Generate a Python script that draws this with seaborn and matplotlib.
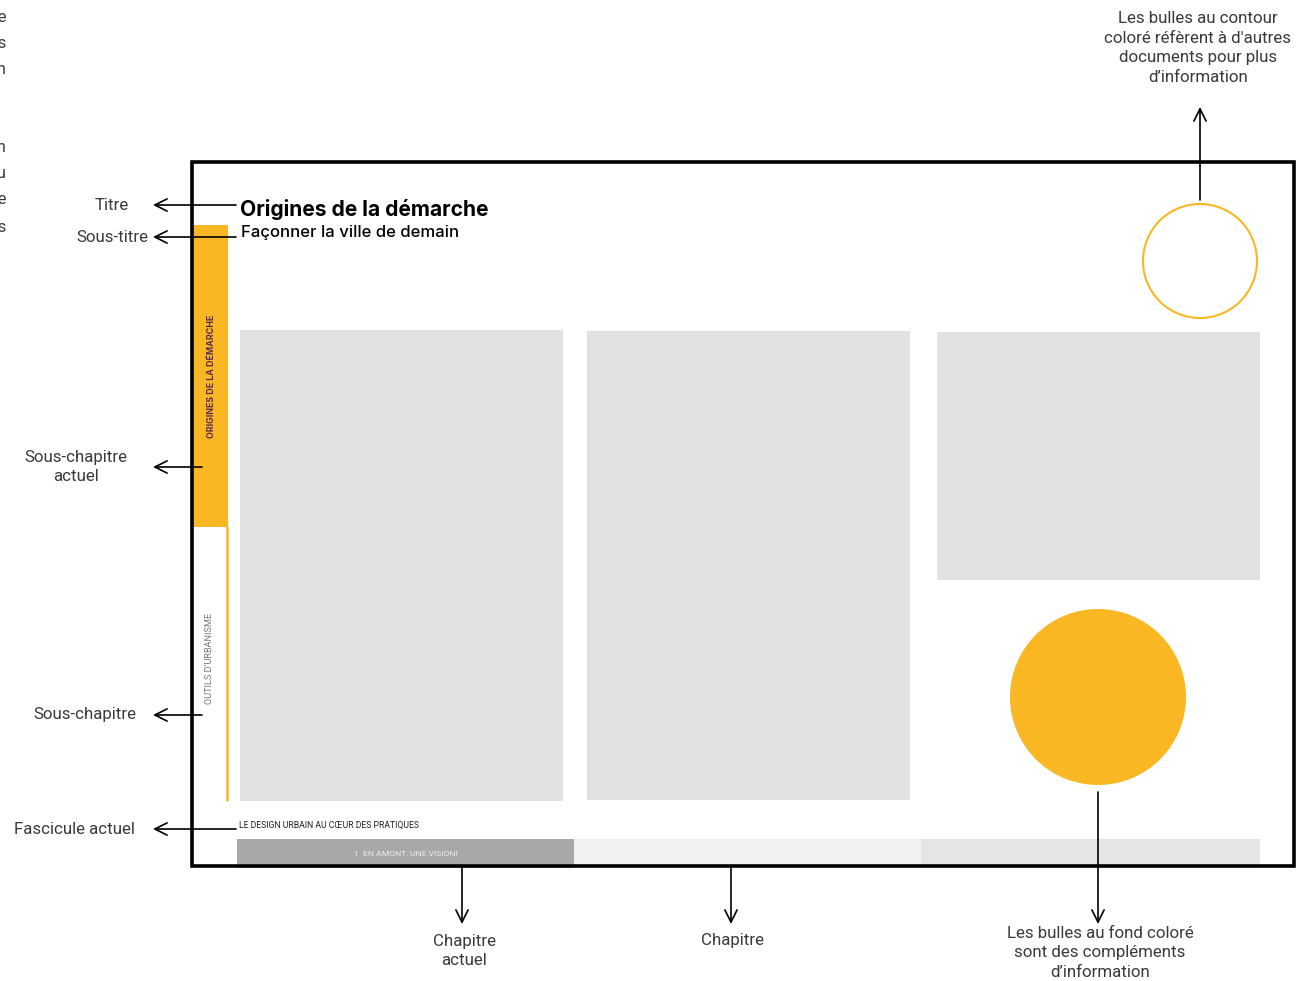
import matplotlib
matplotlib.use("Agg")
import matplotlib.pyplot as plt
import seaborn as sns
from matplotlib.patches import Rectangle, Circle

# Layout data (pixel coordinates of the 1314x981 page)
W, H = 1314, 981
ORANGE = "#F9B823"
GREY_BOX = "#E2E2E2"
TXT = "#3A3A3A"

frame = (192, 162, 1294, 866)
panels = [(240, 330, 563, 801), (587, 331, 910, 800), (937, 332, 1260, 580)]
chapter_bar = [(237, 574, "#A8A8A8"), (574, 921, "#F1F2F2"), (921, 1260, "#E5E5E5")]
chapter_labels = ["1  EN AMONT, UNE VISION!", "", ""]

# left annotations: label, text x, text y, arrow start x, arrow y, alignment
left_notes = [
    ("Titre", 129, 205, 236, 205, "right"),
    ("Sous-titre", 148, 237, 236, 237, "right"),
    ("Sous-chapitre\nactuel", 76, 467, 202, 467, "center"),
    ("Sous-chapitre", 85, 715, 202, 715, "center"),
    ("Fascicule actuel", 74, 829, 236, 829, "center"),
]
# bottom annotations: label, x, text y, arrow top y
bottom_notes = [
    ("Chapitre\nactuel", 462, 951, 868),
    ("Chapitre", 731, 941, 868),
    ("Les bulles au fond coloré\nsont des compléments\nd\u2019information", 1098, 953, 792),
]
top_note = "Les bulles au contour\ncoloré réfèrent à d'autres\ndocuments pour plus\nd\u2019information"
clipped_left = [("e", 18), ("s", 44), ("n", 70), ("n", 148), ("u", 174), ("e", 200), ("s", 227)]

sns.set_theme(style="white")
plt.rcParams["font.family"] = ["Roboto", "DejaVu Sans"]

fig = plt.figure(figsize=(W / 100, H / 100), dpi=100)
ax = fig.add_axes([0, 0, 1, 1])
ax.set_xlim(0, W)
ax.set_ylim(H, 0)
ax.set_axis_off()

# grey content panels
for x0, y0, x1, y1 in panels:
    ax.add_patch(Rectangle((x0, y0), x1 - x0, y1 - y0, color=GREY_BOX, lw=0))

# chapter bar at the bottom
for (x0, x1, c), lab in zip(chapter_bar, chapter_labels):
    ax.add_patch(Rectangle((x0, 839), x1 - x0, 29, color=c, lw=0))
    if lab:
        ax.text((x0 + x1) / 2, 853, lab, ha="center", va="center", fontsize=6.1, color="#EEEEEE")

# sidebar
ax.add_patch(Rectangle((193, 225), 35, 302, color=ORANGE, lw=0))
ax.plot([227, 227], [527, 800], color=ORANGE, lw=1.8)
ax.text(211, 376, "ORIGINES DE LA DÉMARCHE", rotation=90, ha="center", va="center",
        fontsize=6.4, fontweight="bold", color="#5B2A55", family=["Inter", "DejaVu Sans"])
ax.text(210, 658, "OUTILS D\u2019URBANISME", rotation=90, ha="center", va="center",
        fontsize=6.6, color="#777777")

# circles
ax.add_patch(Circle((1200, 261), 57, facecolor="white", edgecolor=ORANGE, lw=1.5))
ax.add_patch(Circle((1098, 697), 88, color=ORANGE, lw=0))

# frame
x0, y0, x1, y1 = frame
ax.add_patch(Rectangle((x0, y0), x1 - x0, y1 - y0, fill=False, edgecolor="black", lw=2.6, zorder=5))

# titles
ax.text(240, 210, "Origines de la démarche", fontsize=15.1, fontweight="bold",
        ha="left", va="center", color="black", family=["Inter", "DejaVu Sans"])
ax.text(241, 233, "Façonner la ville de demain", fontsize=12, fontweight="medium",
        ha="left", va="center", color="black", family=["Inter", "DejaVu Sans"])
ax.text(239, 825, "LE DESIGN URBAIN AU CŒUR DES PRATIQUES", fontsize=6.2,
        ha="left", va="center", color="#222222")

arrow = dict(arrowstyle="->", lw=1.2, color="black", mutation_scale=22, shrinkA=0, shrinkB=0)
note_kw = dict(va="center", fontsize=12.2, color=TXT, linespacing=1.4)

for lab, tx, ty, ax0, ay, ha in left_notes:
    ax.text(tx, ty, lab, ha=ha, **note_kw)
    ax.annotate("", xy=(153, ay), xytext=(ax0, ay), arrowprops=arrow, zorder=6)

for lab, x, ty, top in bottom_notes:
    ax.annotate("", xy=(x, 924), xytext=(x, top), arrowprops=arrow, zorder=6)
    ax.text(x + 2, ty, lab, ha="center", **note_kw)

ax.annotate("", xy=(1200, 107), xytext=(1200, 200), arrowprops=arrow)
ax.text(1198, 48, top_note, ha="center", **note_kw)

# text cut off at the left page edge
for ch, y in clipped_left:
    ax.text(6, y, "xxxx " + ch, ha="right", **note_kw)

fig.savefig("out.png", dpi=100)
